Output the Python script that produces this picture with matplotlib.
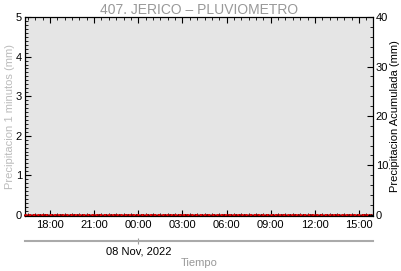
import numpy as np
import pandas as pd
import matplotlib
matplotlib.use("Agg")
import matplotlib.pyplot as plt
import matplotlib.dates as mdates
from matplotlib.ticker import MultipleLocator

plt.rcParams['font.family'] = ['Liberation Sans', 'DejaVu Sans']

# datos (estacion sin lluvia en el periodo)
tiempo = pd.date_range("2022-11-07 16:20", "2022-11-08 15:55", freq="10min")
precip_1min = [0.0] * len(tiempo)
precip_acum = [0.0] * len(tiempo)
titulo = "407. JERICO \u2013 PLUVIOMETRO"
fecha_label = "08 Nov, 2022"

gris = "#999999"

fig = plt.figure(figsize=(4.02, 2.71), dpi=100)
ax = fig.add_axes([0.062, 0.203, 0.866, 0.734])
ax.set_facecolor("#e5e5e5")

ax.plot(tiempo, precip_1min, color="#8b0000", ls="none", marker="o", ms=1.2, clip_on=False, zorder=5)
ax2 = ax.twinx()
ax2.plot(tiempo, precip_acum, color="red", ls=(0, (1, 1.5)), lw=1.2, clip_on=False, zorder=4)

ax.set_xlim(pd.Timestamp("2022-11-07 16:18"), pd.Timestamp("2022-11-08 15:57"))
ax.set_ylim(-0.03, 5)
ax2.set_ylim(-0.24, 40)

ax.xaxis.set_major_locator(mdates.HourLocator(byhour=range(0, 24, 3)))
ax.xaxis.set_minor_locator(mdates.MinuteLocator(byminute=[0, 30]))
ax.xaxis.set_major_formatter(mdates.DateFormatter("%H:%M"))
ax.yaxis.set_major_locator(MultipleLocator(1))
ax.yaxis.set_minor_locator(MultipleLocator(0.1))
ax2.yaxis.set_major_locator(MultipleLocator(10))
ax2.yaxis.set_minor_locator(MultipleLocator(2))

for a in (ax, ax2):
    a.tick_params(which="both", direction="in", labelsize=8, pad=2)
    a.tick_params(which="major", length=4)
    a.tick_params(which="minor", length=2)
ax.tick_params(axis="x", which="both", top=True, pad=3)
ax.tick_params(axis="y", which="both", right=False)

ax.set_title(titulo, fontsize=10, color=gris, pad=2)
ax.set_ylabel("Precipitacion 1 minutos (mm)", fontsize=8, color="#bbbbbb", labelpad=1)
ax2.set_ylabel("Precipitacion Acumulada (mm)", fontsize=8, color="black", labelpad=1)

# eje de fecha bajo el eje de horas
sec = ax.secondary_xaxis(-0.126)
sec.set_xticks([pd.Timestamp("2022-11-08 00:00")])
sec.set_xticklabels([fecha_label])
sec.tick_params(direction="inout", length=4, color=gris, labelsize=8, pad=2)
sec.spines["bottom"].set_color("#aaaaaa")
sec.spines["bottom"].set_linewidth(1.5)
sec.set_xlabel("Tiempo", fontsize=8, color=gris, labelpad=1)

fig.savefig("out.png", dpi=100)
